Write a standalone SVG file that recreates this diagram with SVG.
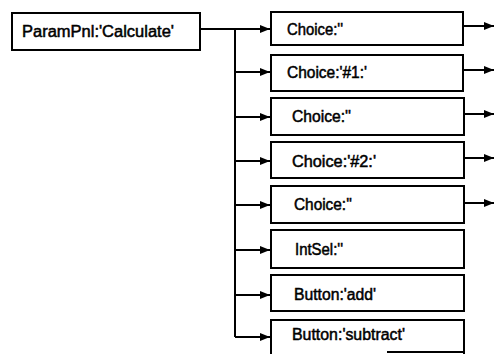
<svg xmlns="http://www.w3.org/2000/svg" width="495" height="354" viewBox="0 0 495 354">
  <style>
    .box { fill: #ffffff; stroke: #000000; stroke-width: 2; }
    .wire { fill: none; stroke: #000000; stroke-width: 2; }
    .lbl { font-family: "Liberation Sans", Arial, sans-serif; font-size: 16px; fill: #000000; stroke: #000000; stroke-width: 0.5; }
  </style>
  <defs>
    <marker id="head" viewBox="0 0 10 8" refX="10" refY="4" markerWidth="11" markerHeight="8" markerUnits="userSpaceOnUse" orient="auto">
      <path d="M0,0 L10,4 L0,8 Z" fill="#000000"/>
    </marker>
  </defs>
  <rect width="495" height="354" fill="#ffffff"/>

  <g id="connectors">
    <!-- parent to first child, and the shared trunk -->
    <path class="wire" d="M200,29 H270" marker-end="url(#head)"/>
    <path class="wire" d="M235,29 V337"/>
    <path class="wire" d="M235,72 H270" marker-end="url(#head)"/>
    <path class="wire" d="M235,117 H270" marker-end="url(#head)"/>
    <path class="wire" d="M235,161 H270" marker-end="url(#head)"/>
    <path class="wire" d="M235,205 H270" marker-end="url(#head)"/>
    <path class="wire" d="M235,250 H270" marker-end="url(#head)"/>
    <path class="wire" d="M235,295 H270" marker-end="url(#head)"/>
    <path class="wire" d="M235,337 H270" marker-end="url(#head)"/>
    <!-- outgoing links on the right -->
    <path class="wire" d="M463,26 H494" marker-end="url(#head)"/>
    <path class="wire" d="M463,70 H494" marker-end="url(#head)"/>
    <path class="wire" d="M464,114 H494" marker-end="url(#head)"/>
    <path class="wire" d="M464,158 H494" marker-end="url(#head)"/>
    <path class="wire" d="M464,203 H494" marker-end="url(#head)"/>
  </g>

  <g id="paramPnl">
    <rect class="box" x="12" y="13" width="188" height="37"/>
    <text class="lbl" x="22" y="37" textLength="152" lengthAdjust="spacingAndGlyphs">ParamPnl:'Calculate'</text>
  </g>

  <g id="choice1">
    <rect class="box" x="271" y="12" width="192" height="33"/>
    <text class="lbl" x="287" y="35" textLength="56" lengthAdjust="spacingAndGlyphs">Choice:''</text>
  </g>

  <g id="choice2">
    <rect class="box" x="271" y="55" width="192" height="36"/>
    <text class="lbl" x="287" y="78" textLength="80" lengthAdjust="spacingAndGlyphs">Choice:'#1:'</text>
  </g>

  <g id="choice3">
    <rect class="box" x="271" y="98" width="193" height="37"/>
    <text class="lbl" x="292" y="122" textLength="59" lengthAdjust="spacingAndGlyphs">Choice:''</text>
  </g>

  <g id="choice4">
    <rect class="box" x="271" y="142" width="193" height="36"/>
    <text class="lbl" x="292" y="167" textLength="84" lengthAdjust="spacingAndGlyphs">Choice:'#2:'</text>
  </g>

  <g id="choice5">
    <rect class="box" x="271" y="186" width="193" height="37"/>
    <text class="lbl" x="294" y="210" textLength="58" lengthAdjust="spacingAndGlyphs">Choice:''</text>
  </g>

  <g id="intSel">
    <rect class="box" x="271" y="230" width="193" height="38"/>
    <text class="lbl" x="295" y="255" textLength="48" lengthAdjust="spacingAndGlyphs">IntSel:''</text>
  </g>

  <g id="buttonAdd">
    <rect class="box" x="271" y="275" width="193" height="36"/>
    <text class="lbl" x="294" y="300" textLength="82" lengthAdjust="spacingAndGlyphs">Button:'add'</text>
  </g>

  <g id="buttonSubtract">
    <path class="box" d="M271,354 V320 H464 V354"/>
    <path class="wire" d="M387,352 H464"/>
    <text class="lbl" x="292" y="340" textLength="113" lengthAdjust="spacingAndGlyphs">Button:'subtract'</text>
  </g>
</svg>
